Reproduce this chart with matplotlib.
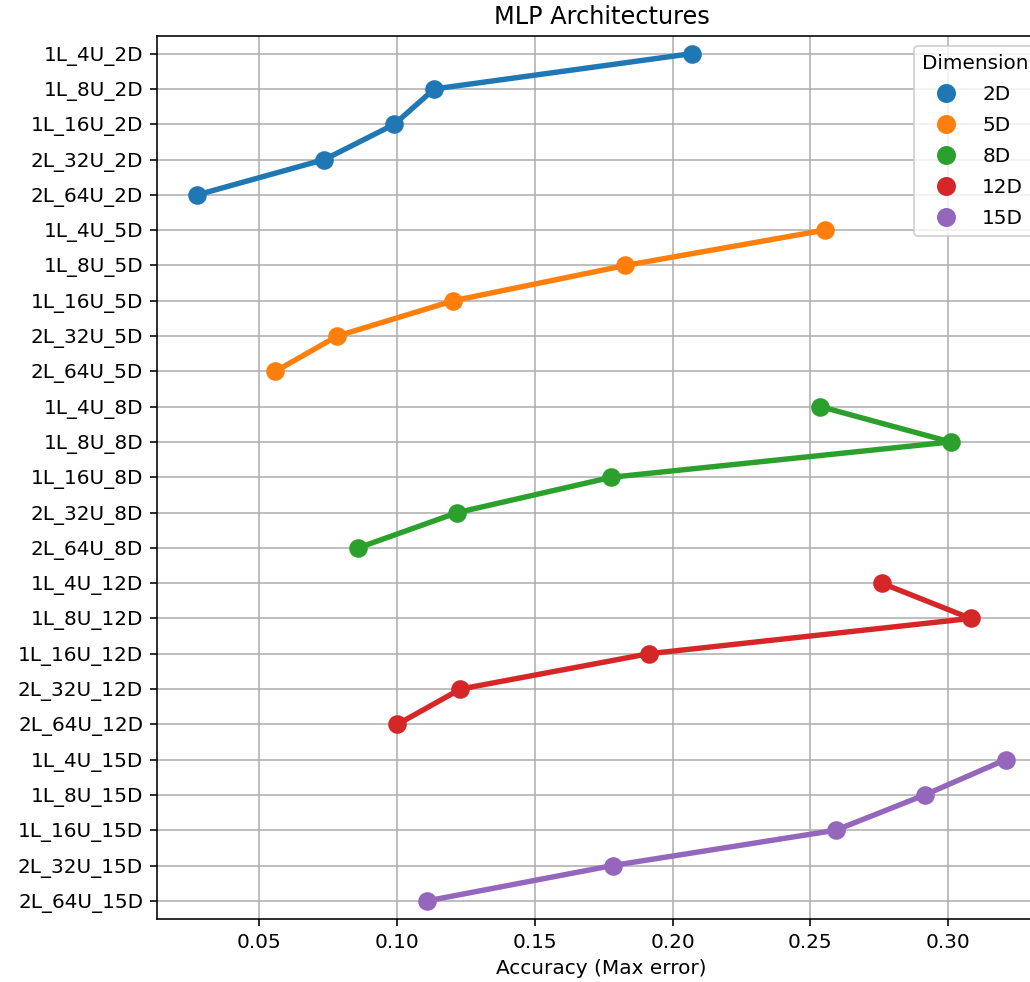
import matplotlib
matplotlib.use("Agg")
import matplotlib.pyplot as plt
from matplotlib.lines import Line2D

# architectures, in the order they appear on the y axis (per dimension)
archs = ["1L_4U", "1L_8U", "1L_16U", "2L_32U", "2L_64U"]
dims = ["2D", "5D", "8D", "12D", "15D"]

# max error, one list per dimension (same order as archs)
err_2d = [0.2069, 0.1135, 0.0990, 0.0736, 0.0275]
err_5d = [0.2552, 0.1829, 0.1204, 0.0783, 0.0558]
err_8d = [0.2537, 0.3009, 0.1778, 0.1219, 0.0859]
err_12d = [0.2759, 0.3082, 0.1913, 0.1230, 0.1001]
err_15d = [0.3209, 0.2915, 0.2592, 0.1782, 0.1110]

errors = [err_2d, err_5d, err_8d, err_12d, err_15d]
colors = ["#1f77b4", "#ff7f0e", "#2ca02c", "#d62728", "#9467bd"]

DPI = 144
fig = plt.figure(figsize=(1030 / DPI, 982 / DPI), dpi=DPI)
# right edge of the axes sits just past the picture, like the original crop
ax = fig.add_axes([157 / 1030, (982 - 918.5) / 982, 889 / 1030, (918.5 - 36) / 982])
ax.grid(True, zorder=0)

handles = []
for dim, vals, c in zip(dims, errors, colors):
    labels = [f"{a}_{dim}" for a in archs]
    ax.plot(vals, labels, color=c, lw=2.7, marker="o", markersize=8.3, zorder=3)
    handles.append(Line2D([], [], ls="", marker="o", markersize=8.5, color=c, label=dim))

ax.set_ylim(24.5, -0.5)
lo = min(min(v) for v in errors)
hi = max(max(v) for v in errors)
pad = (hi - lo) * 0.05
ax.set_xlim(lo - pad, hi + pad)
ax.set_xticks([0.05, 0.10, 0.15, 0.20, 0.25, 0.30])

ax.set_title("MLP Architectures")
ax.set_xlabel("Accuracy (Max error)")
ax.legend(handles=handles, title="Dimension", loc="upper right", labelspacing=0.6)

fig.savefig("out.png", dpi=DPI)
